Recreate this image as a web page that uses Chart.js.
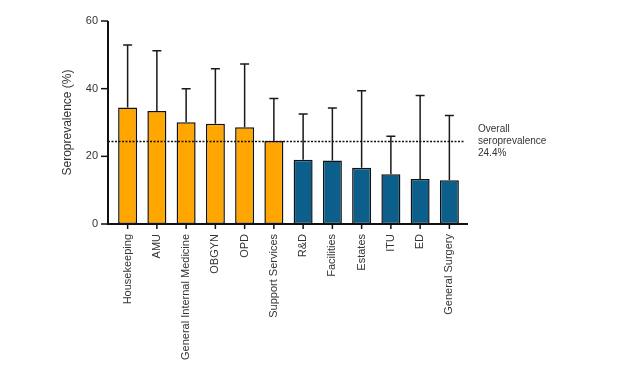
<!DOCTYPE html>
<html>
<head>
<meta charset="utf-8">
<script src="https://cdn.jsdelivr.net/npm/chart.js@4.4.0/dist/chart.umd.min.js"></script>
<style>
  body { margin: 0; background: #fff; }
  #wrap { width: 620px; height: 368px; }
</style>
</head>
<body>
<div id="wrap"><canvas id="seroChart" width="620" height="368"></canvas></div>
<script>
// data
const groups = ['Housekeeping', 'AMU', 'General Internal Medicine', 'OBGYN', 'OPD', 'Support Services',
    'R&D', 'Facilities', 'Estates', 'ITU', 'ED', 'General Surgery'];
const prevalence = [34.4, 33.4, 30.1, 29.6, 28.6, 24.5, 19.0, 18.8, 16.6, 14.7, 13.3, 12.9];
const upperCI = [52.9, 51.2, 40.0, 45.9, 47.3, 37.1, 32.5, 34.3, 39.4, 25.9, 38.0, 32.1];
const aboveOverall = [true, true, true, true, true, true, false, false, false, false, false, false];
const overallPrev = 24.4;
const yTicks = [0, 20, 40, 60];

const orange = '#FFA600';
const blue = '#0B5F8A';

const AXIS_GAP = 5; // axis lines sit a little left of the first bar

const extrasPlugin = {
    id: 'extras',
    afterDatasetsDraw(chart) {
        const ctx = chart.ctx;
        const xs = chart.scales.x, ys = chart.scales.y;
        const area = chart.chartArea;
        const axisX = area.left - AXIS_GAP;
        const axisY = ys.getPixelForValue(0);

        ctx.save();
        // error bars (upper only)
        ctx.strokeStyle = '#1a1a1a';
        ctx.lineWidth = 1.5;
        prevalence.forEach((v, i) => {
            const x = xs.getPixelForValue(i);
            const y0 = ys.getPixelForValue(v);
            const y1 = ys.getPixelForValue(upperCI[i]);
            ctx.beginPath();
            ctx.moveTo(x, y0);
            ctx.lineTo(x, y1);
            ctx.moveTo(x - 4.5, y1);
            ctx.lineTo(x + 4.5, y1);
            ctx.stroke();
        });

        // overall seroprevalence reference line
        const yRef = ys.getPixelForValue(overallPrev);
        ctx.setLineDash([2, 1.5]);
        ctx.lineWidth = 1.5;
        ctx.strokeStyle = '#111';
        ctx.beginPath();
        ctx.moveTo(axisX, yRef);
        ctx.lineTo(area.right, yRef);
        ctx.stroke();
        ctx.setLineDash([]);

        // axes
        ctx.strokeStyle = '#111';
        ctx.lineWidth = 2;
        ctx.beginPath();
        ctx.moveTo(axisX, ys.getPixelForValue(60));
        ctx.lineTo(axisX, axisY);
        ctx.lineTo(area.right + 4, axisY);
        ctx.stroke();

        ctx.lineWidth = 1.5;
        yTicks.forEach(t => {
            const y = ys.getPixelForValue(t);
            ctx.beginPath();
            ctx.moveTo(axisX - 7, y);
            ctx.lineTo(axisX, y);
            ctx.stroke();
        });
        groups.forEach((g, i) => {
            const x = xs.getPixelForValue(i);
            ctx.beginPath();
            ctx.moveTo(x, axisY);
            ctx.lineTo(x, axisY + 5);
            ctx.stroke();
        });

        // label beside the reference line
        ctx.fillStyle = '#333';
        ctx.font = '10px "Liberation Sans", Arial, sans-serif';
        ctx.textBaseline = 'middle';
        ctx.textAlign = 'left';
        const lx = area.right + 14;
        ctx.fillText('Overall', lx, yRef - 12);
        ctx.fillText('seroprevalence', lx, yRef);
        ctx.fillText(overallPrev + '%', lx, yRef + 12);
        ctx.restore();
    }
};

new Chart(document.getElementById('seroChart'), {
    type: 'bar',
    data: {
        labels: groups,
        datasets: [{
            data: prevalence,
            backgroundColor: aboveOverall.map(a => a ? orange : blue),
            borderColor: '#111',
            borderWidth: 1.5,
            borderSkipped: false,
            categoryPercentage: 1,
            barPercentage: 0.65
        }]
    },
    options: {
        responsive: false,
        animation: false,
        layout: { padding: { left: 60, right: 156, top: 21, bottom: 0 } },
        plugins: {
            legend: { display: false },
            tooltip: { enabled: false }
        },
        scales: {
            x: {
                grid: { display: false },
                border: { display: false },
                ticks: {
                    minRotation: 90,
                    maxRotation: 90,
                    autoSkip: false,
                    padding: 2,
                    color: '#333',
                    font: { family: '"Liberation Sans", Arial, sans-serif', size: 11 }
                },
                afterFit(scale) { scale.height = 144; }
            },
            y: {
                min: 0,
                max: 60,
                grid: { display: false },
                border: { display: false },
                ticks: {
                    stepSize: 20,
                    padding: 7,
                    color: '#333',
                    font: { family: '"Liberation Sans", Arial, sans-serif', size: 11 }
                },
                title: {
                    display: true,
                    text: 'Seroprevalence (%)',
                    color: '#333',
                    padding: { top: 0, bottom: 4 },
                    font: { family: '"Liberation Sans", Arial, sans-serif', size: 12 }
                },
                afterFit(scale) { scale.width = 53; }
            }
        }
    },
    plugins: [extrasPlugin]
});
</script>
</body>
</html>
